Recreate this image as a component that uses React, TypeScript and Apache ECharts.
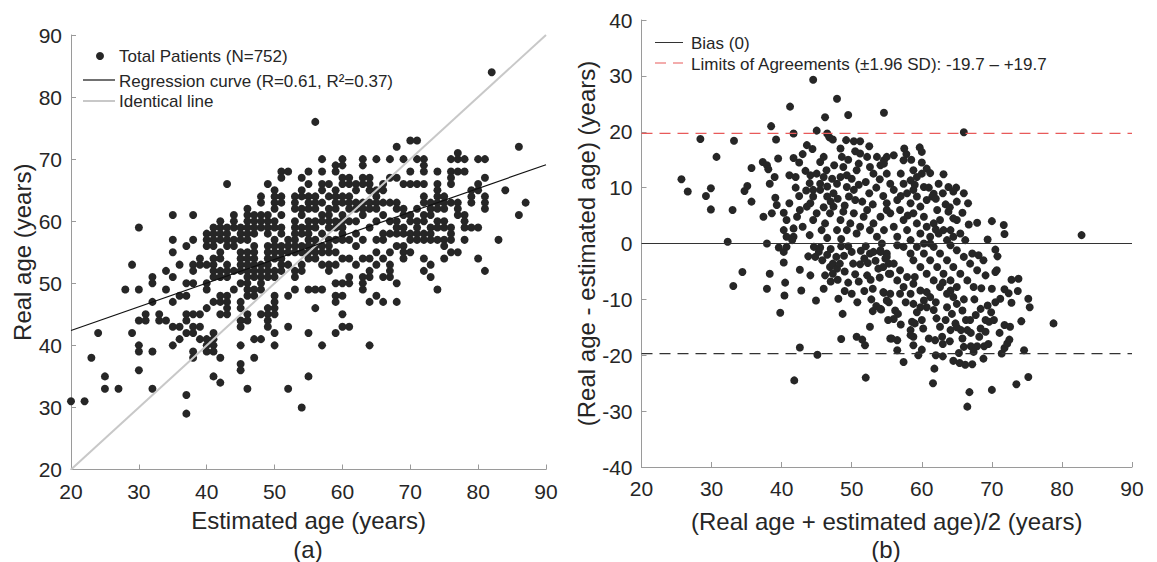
import { useEffect, useRef } from "react";
import * as echarts from "echarts";

const FONT = "'Liberation Sans', Helvetica, Arial, sans-serif";
const TEXT = "#262626";
const AXIS = "#9a9a9a";
const DOT = "#262626";
const LOA_RED = "#e85a5a";

// Panel (a): estimated age -> list of real ages
const estimatedAgeColumns: Array<[number, number[]]> = [
  [20, [31]],
  [22, [31]],
  [23, [38]],
  [24, [42]],
  [25, [35, 33]],
  [27, [33]],
  [28, [49]],
  [29, [53, 42]],
  [30, [59, 49, 44, 40, 39, 36]],
  [31, [45, 44]],
  [32, [51, 50, 47, 39, 33]],
  [33, [45, 44]],
  [34, [52, 49, 44]],
  [35, [61, 57, 55, 51, 47, 43, 40]],
  [36, [53, 48, 43, 41]],
  [37, [56, 50, 48, 45, 44, 42, 32, 29]],
  [38, [61, 57, 53, 52, 50, 45, 43, 42, 39, 38]],
  [39, [54, 53, 45, 43, 41]],
  [40, [58, 57, 56, 53, 50, 49, 46, 41, 40, 39]],
  [41, [59, 58, 57, 56, 54, 53, 52, 51, 47, 42, 41, 40, 39, 35]],
  [42, [60, 59, 58, 57, 55, 54, 52, 51, 48, 47, 45, 38, 34]],
  [43, [66, 59, 58, 57, 56, 53, 52, 51, 48, 47, 46, 45]],
  [44, [61, 60, 59, 57, 56, 52, 49]],
  [45, [59, 58, 57, 55, 54, 53, 52, 50, 47, 46, 44, 43, 40, 37, 36]],
  [46, [62, 61, 60, 59, 58, 57, 55, 54, 53, 52, 51, 50, 49, 48, 45, 44, 33]],
  [47, [61, 60, 59, 58, 56, 55, 54, 53, 52, 51, 49, 48, 41, 38]],
  [48, [64, 63, 61, 60, 59, 53, 52, 51, 50, 49, 45, 41]],
  [49, [66, 61, 60, 59, 58, 56, 55, 54, 53, 52, 51, 46, 45, 44, 43]],
  [50, [65, 64, 63, 62, 60, 59, 57, 56, 55, 54, 52, 51, 48, 47, 46, 45, 42, 40]],
  [51, [68, 67, 64, 63, 61, 59, 58, 56, 55, 54, 53, 52]],
  [52, [68, 57, 56, 55, 53, 48, 43, 33]],
  [53, [64, 63, 62, 60, 59, 58, 57, 56, 55, 52, 51, 49]],
  [54, [67, 65, 64, 62, 61, 59, 58, 56, 55, 53, 52, 30]],
  [55, [68, 66, 64, 63, 62, 60, 59, 58, 57, 56, 55, 54, 49, 42, 35]],
  [56, [76, 64, 63, 62, 60, 59, 57, 56, 55, 54, 49, 46]],
  [57, [70, 68, 66, 65, 63, 61, 60, 58, 56, 55, 53, 49, 40]],
  [58, [66, 64, 62, 61, 60, 59, 57, 56, 55, 53, 52]],
  [59, [69, 68, 65, 64, 63, 62, 60, 59, 57, 55, 53, 50, 48, 47, 42]],
  [60, [70, 69, 67, 66, 64, 63, 61, 60, 59, 58, 57, 54, 50, 48, 45, 43]],
  [61, [67, 66, 64, 63, 62, 60, 57, 54, 51, 50, 43]],
  [62, [66, 65, 63, 62, 60, 58, 56, 53]],
  [63, [70, 69, 67, 66, 63, 62, 61, 57, 54, 51, 50, 49]],
  [64, [67, 66, 65, 63, 62, 59, 54, 52, 51, 47, 40]],
  [65, [70, 65, 64, 63, 62, 60, 57, 55, 53, 48]],
  [66, [66, 65, 63, 61, 58, 57, 54, 51, 47]],
  [67, [70, 67, 63, 60, 58, 55, 53, 52, 51]],
  [68, [72, 67, 63, 62, 60, 59, 58, 56, 50, 47]],
  [69, [70, 66, 62, 61, 59, 58, 56, 55, 54]],
  [70, [73, 68, 66, 61, 60, 58, 57, 55]],
  [71, [73, 70, 66, 62, 60, 59, 58, 57]],
  [72, [70, 69, 68, 66, 64, 63, 61, 60, 58, 57, 54, 52]],
  [73, [63, 62, 61, 59, 58, 57, 53, 51]],
  [74, [68, 66, 65, 64, 63, 62, 60, 59, 57, 49]],
  [75, [64, 63, 62, 60, 59, 57, 56, 54]],
  [76, [70, 68, 67, 66, 63, 59, 58, 57, 55]],
  [77, [71, 70, 68, 63, 62, 61, 55]],
  [78, [70, 68, 61, 60, 59, 57]],
  [79, [65, 64, 63, 59]],
  [80, [70, 66, 65, 59, 54]],
  [81, [70, 67, 64, 63, 62, 52]],
  [82, [84]],
  [83, [57]],
  [84, [65]],
  [86, [72, 61]],
  [87, [63]],
];

const regressionLine: [number, number][] = [[20, 42.4], [90, 69.1]];
const identicalLine: [number, number][] = [[20, 20], [90, 90]];

// Panel (b): [mean of real & estimated, real - estimated]
const blandAltmanPoints: [number, number][] = [
  [25.7, 11.5], [26.6, 9.3], [28.4, 18.7], [29.9, 9.9], [29.2, 8.5], [29.9, 6.1], [30.7, 15.5],
  [32.3, 0.3], [33.0, 6.0], [33.2, 18.4], [34.7, 9.4], [35.1, 10.3], [35.7, 7.5], [35.7, 13.5],
  [37.3, 14.6], [37.9, 14.0], [38.1, 13.3], [38.5, 21.0], [38.3, 10.7], [39.0, 11.9], [39.1, 8.2],
  [37.4, 4.8], [37.9, 0], [38.6, 5.4], [39.3, 6.9], [40.3, 5.5], [41.1, 7.2], [40.7, 4.2],
  [40.3, 2.4], [40.7, 1.2], [41.7, 1.2], [41.7, 2.7], [39.5, 15.2], [39.2, 18.6], [41.2, 24.5],
  [41.7, 19.7], [41.7, 15.3], [41.1, 12.2], [42.0, 11.9], [43.0, 16.0], [43.4, 13.0], [43.6, 17.6],
  [44.1, 12.2], [44.4, 16.9], [44.5, 29.3], [45.0, 20.2], [45.5, 14.6], [46.2, 22.6], [46.5, 19.7],
  [46.8, 19.0], [47.3, 18.6], [47.9, 25.9], [49.5, 23.0], [49.2, 18.5], [50.3, 18.3], [51.2, 18.3],
  [52.5, 17.4], [54.6, 23.4],
  [44.5, 9.6], [44.5, 8.4], [45.5, 10.7], [45.5, 9.6], [46.0, 11.9], [46.4, 13.1], [46.5, 10.2],
  [46.5, 8.4], [47.2, 11.6], [47.4, 9.0], [47.9, 10.7], [48.4, 11.9], [48.6, 15.5], [48.4, 17.0],
  [48.8, 13.7], [49.3, 12.2], [49.3, 10.1], [49.6, 8.4], [50.0, 11.6], [50.3, 9.6], [50.7, 13.1],
  [51.0, 14.3], [51.2, 16.1], [52.2, 15.5], [52.6, 13.7], [53.1, 12.5], [53.6, 15.5], [54.1, 14.0],
  [54.6, 14.9], [55.0, 15.5],
  [42.2, 4.8], [42.6, 6.0], [43.6, 6.6], [44.1, 7.2], [44.5, 4.2], [45.0, 5.4], [45.7, 2.4],
  [46.2, 3.6], [46.9, 5.4], [47.4, 6.6], [47.9, 2.4], [48.4, 4.2], [48.8, 5.7], [49.3, 2.4],
  [49.8, 3.6], [50.3, 5.4], [50.7, 1.8], [51.2, 3.0], [51.7, 4.8], [52.2, 6.0], [52.6, 2.4],
  [53.1, 3.6], [53.6, 1.2], [54.1, 4.8], [54.6, 2.4], [55.0, 6.0],
  [51.5, 7.5], [52.5, 9.0], [53.5, 10.0], [54.5, 8.5], [52.0, 11.0], [53.0, 7.0], [51.0, 10.5],
  [54.0, 11.5], [50.5, 7.8], [49.0, 6.8], [48.0, 8.0], [47.0, 7.5], [46.0, 6.5], [45.0, 12.5],
  [44.0, 10.8], [43.5, 9.5], [42.5, 8.5], [42.0, 10.0], [43.0, 3.0], [44.0, 1.5], [46.5, 1.0],
  [48.5, 0.8], [42.5, 14.5], [47.5, 14.0], [46.0, 15.5], [49.5, 15.0], [50.5, 16.5],
  [66.0, 19.9], [82.8, 1.5], [59.7, 17.2], [60.0, 16.4], [57.5, 17.0], [56.0, 15.8], [57.8, 16.0],
  [57.4, 14.9], [60.7, 13.4], [61.2, 12.6], [63.1, 12.4], [62.4, 10.7], [63.8, 10.1], [64.9, 10.0],
  [64.5, 9.3], [61.7, 8.9], [61.5, 8.4], [66.6, 7.2], [65.8, 5.5], [63.4, 7.0], [63.8, 5.7],
  [65.0, 4.2], [66.7, 3.4], [67.9, 3.7], [70.0, 4.0], [71.7, 3.3], [71.8, 1.7], [69.4, 0.7],
  [70.5, -1.1], [66.2, 0.6],
  [54.6, 14.3], [55.0, 12.5], [55.5, 10.7], [56.0, 9.6], [56.5, 7.8], [56.9, 6.0], [57.4, 4.2],
  [57.9, 2.4], [58.4, 0.6], [55.0, 7.2], [55.5, 5.4], [56.0, 3.0], [56.5, 1.2], [58.8, 13.1],
  [58.4, 11.3], [58.8, 9.6], [59.3, 8.4], [59.8, 6.6], [60.3, 4.8], [60.7, 3.0], [61.2, 1.2],
  [59.3, 11.9], [60.3, 10.1], [60.7, 7.8], [62.2, 6.0], [62.6, 4.2], [63.1, 2.4], [63.6, 0.6],
  [61.7, 3.6], [62.4, 1.8], [57.0, 12.5], [57.4, 10.7], [57.9, 9.0], [58.4, 7.2], [58.8, 5.4],
  [59.3, 3.6], [59.8, 1.8], [60.3, 0.0], [64.1, 2.4], [64.5, 1.2], [65.5, 1.8], [61.2, 0.0],
  [57.0, 8.5], [58.0, 5.0], [59.0, 10.5], [60.0, 12.5], [61.0, 10.0], [62.0, 8.0], [63.0, 9.0],
  [62.0, 2.5], [64.0, 6.5], [65.0, 7.5], [66.0, 9.0], [64.5, 4.5], [60.0, 14.5], [58.5, 15.0],
  [33.1, -7.6], [34.4, -5.1], [37.9, -8.1], [38.3, -5.4], [39.6, -0.7], [40.3, -1.5], [40.7, -0.6],
  [41.5, 0.6], [40.3, -3.4], [40.5, -7.0], [40.4, -9.3], [39.8, -12.4], [42.6, -4.7], [42.8, -8.4],
  [44.1, -5.7], [43.8, -2.3], [44.8, -2.4], [44.6, -0.6], [45.5, -0.7], [45.3, -1.5], [44.9, -10.2],
  [46.0, -8.1], [46.2, -5.7], [46.9, -4.2], [47.3, -3.6], [47.9, -4.5], [48.3, -3.6], [47.8, -2.4],
  [48.9, -2.2], [47.3, -5.4], [48.1, -9.9], [48.7, -12.6], [48.5, -17.1], [42.6, -18.6],
  [45.1, -19.9], [41.8, -24.5], [50.2, -3.6], [51.2, -3.7], [51.3, -1.3], [51.8, -2.7], [52.3, -3.5],
  [52.6, -1.8], [53.1, -1.5], [53.4, -3.1], [54.1, -1.5], [54.3, 0], [54.8, -2.7], [55.0, -1.8],
  [55.3, -3.6], [55.3, -5.4], [52.2, -5.7], [52.7, -6.5], [54.0, -6.1], [53.0, -8.1], [54.6, -8.8],
  [55.3, -10.5], [50.8, -10.5], [53.0, -12.1], [53.5, -11.2], [54.2, -11.8], [52.6, -14.9],
  [50.7, -16.7], [51.5, -17.2], [51.9, -18.2], [52.0, -24.0], [55.5, -17.0],
  [45.8, -3.0], [46.5, -2.0], [47.0, -6.8], [48.0, -6.5], [49.0, -5.0], [49.5, -7.0], [50.0, -1.5],
  [50.5, -5.5], [49.5, -0.5], [51.0, -6.8], [51.8, -8.5], [52.8, -10.0], [53.8, -4.5], [52.0, -0.5],
  [50.0, -9.0], [49.0, -8.5], [48.5, -0.5], [47.0, -1.0],
  [78.8, -14.3], [75.2, -23.9], [73.5, -25.2], [70.0, -26.2], [66.8, -26.6], [66.5, -29.2],
  [61.6, -25.0], [61.8, -22.4], [62.0, -20.0], [63.0, -20.2], [64.5, -21.0], [65.4, -21.4],
  [66.2, -21.7], [67.2, -21.6], [65.3, -19.6], [68.8, -20.6], [74.6, -19.1], [71.4, -19.7],
  [71.8, -18.7], [72.2, -17.9], [72.5, -17.2], [74.2, -13.9], [75.2, -9.9], [75.4, -11.4],
  [72.8, -6.5], [73.8, -6.3], [73.7, -8.5], [72.8, -10.6], [71.8, -8.2], [71.2, -9.9], [72.4, -8.9],
  [71.1, -16.0], [71.8, -14.6], [72.6, -14.9], [70.8, -2.3], [70.5, -5.1], [70.7, -4.8],
  [69.1, -5.7], [70.0, -8.1], [69.4, -11.1], [69.9, -12.3], [69.1, -13.7], [69.6, -14.0],
  [70.3, -13.7], [68.4, -15.2], [69.1, -15.8], [68.2, -16.7], [68.9, -18.4], [67.9, -18.4],
  [67.0, -18.4], [67.4, -19.4], [66.0, -18.5], [65.8, -17.0], [66.5, -15.5], [65.6, -15.5],
  [66.9, -13.7], [67.7, -12.8], [68.4, -11.7],
  [64.1, -8.4], [64.5, -9.6], [63.6, -11.4], [64.3, -12.6], [65.0, -10.8], [65.8, -12.0],
  [66.3, -13.7], [64.8, -14.3], [64.1, -15.5], [63.4, -13.7], [62.6, -14.9], [62.9, -16.7],
  [62.1, -13.4], [61.7, -11.9], [61.9, -17.3],
  [60.7, -8.7], [61.2, -9.6], [60.3, -10.2], [60.7, -11.4], [59.8, -11.4], [59.3, -12.3],
  [58.8, -16.7], [58.4, -15.5], [58.6, -14.0], [59.0, -14.3], [60.0, -13.7], [60.2, -15.2],
  [56.5, -19.1], [56.5, -17.3], [57.4, -21.2], [55.7, -17.0], [55.0, -10.2], [56.2, -12.0],
  [56.6, -12.6], [56.0, -13.5], [55.2, -13.7], [58.8, -18.2], [58.4, -16.4], [54.5, -8.7],
  [54.1, -11.7], [55.5, -9.0], [56.9, -9.0], [58.4, -9.0], [57.7, -10.5], [58.8, -10.8],
  [61.0, -17.0], [60.0, -19.0], [63.0, -18.0], [64.0, -17.5], [65.0, -15.0], [67.5, -10.0],
  [68.5, -8.0], [66.0, -10.0], [63.0, -7.0], [62.0, -10.5], [59.0, -6.0], [57.0, -14.5],
  [59.5, -20.0], [67.0, -16.0], [70.5, -10.5], [69.5, -18.0],
  [54.1, -1.2], [55.0, -2.4], [56.0, -3.6], [56.9, -4.8], [57.9, -6.0], [58.8, -7.2], [59.8, -8.4],
  [54.5, -4.2], [55.5, -5.4], [56.5, -6.6], [57.4, -7.8], [58.8, -3.0], [59.8, -4.2], [60.7, -5.4],
  [61.7, -6.6], [62.6, -7.8], [63.6, -9.0], [60.3, -1.8], [61.2, -3.0], [62.2, -4.2], [63.1, -5.4],
  [64.1, -6.6], [65.0, -7.8], [61.7, -0.6], [62.6, -1.8], [63.6, -3.0], [64.5, -4.2], [65.5, -5.4],
  [66.5, -6.6], [67.4, -7.8], [64.1, -0.3], [65.0, -1.2], [66.0, -2.4], [66.9, -3.6], [67.9, -4.8],
  [67.2, -1.8], [68.1, -2.1], [68.8, -3.0], [59.3, -0.6], [58.4, -1.8], [57.4, -0.6], [56.5, -0.3],
];

const biasLine: [number, number][] = [[20, 0], [90, 0]];
const upperLimit: [number, number][] = [[20, 19.7], [90, 19.7]];
const lowerLimit: [number, number][] = [[20, -19.7], [90, -19.7]];

const axisStyle = {
  axisLine: { show: true, onZero: false, lineStyle: { color: AXIS, width: 1 } },
  axisTick: { show: true, inside: true, length: 5, lineStyle: { color: AXIS } },
  splitLine: { show: false },
  nameTextStyle: { color: TEXT, fontSize: 24, fontFamily: FONT },
};
const labelStyle = (margin: number) => ({ color: TEXT, fontSize: 21, fontFamily: FONT, margin });

export default function App() {
  const ref = useRef<HTMLDivElement>(null);
  useEffect(() => {
    if (!ref.current) return;
    const chart = echarts.init(ref.current, null, { renderer: "svg" });
    const scatterA = estimatedAgeColumns.flatMap(([est, reals]) => reals.map((r) => [est, r]));
    const legendText = { fontSize: 17, fontFamily: FONT, fill: TEXT, verticalAlign: "middle" as const };
    chart.setOption({
      animation: false,
      grid: [
        { left: 71, top: 35, width: 475, height: 434.5 },
        { left: 641.5, top: 20, width: 490.5, height: 447 },
      ],
      xAxis: [
        {
          gridIndex: 0, type: "value", min: 20, max: 90, interval: 10,
          name: "Estimated age (years)", nameLocation: "middle", nameGap: 39,
          ...axisStyle, axisLabel: labelStyle(11),
        },
        {
          gridIndex: 1, type: "value", min: 20, max: 90, interval: 10,
          name: "(Real age + estimated age)/2 (years)", nameLocation: "middle", nameGap: 42,
          ...axisStyle, axisLabel: labelStyle(11),
        },
      ],
      yAxis: [
        {
          gridIndex: 0, type: "value", min: 20, max: 90, interval: 10,
          name: "Real age (years)", nameLocation: "middle", nameGap: 32,
          ...axisStyle, axisLabel: labelStyle(9),
        },
        {
          gridIndex: 1, type: "value", min: -40, max: 40, interval: 10,
          name: "(Real age - estimated age) (years)", nameLocation: "middle", nameGap: 40,
          ...axisStyle, axisLabel: labelStyle(9),
        },
      ],
      series: [
        {
          type: "scatter", xAxisIndex: 0, yAxisIndex: 0, data: scatterA,
          symbolSize: 8, itemStyle: { color: DOT, opacity: 1 }, z: 2,
        },
        {
          type: "line", xAxisIndex: 0, yAxisIndex: 0, data: identicalLine, showSymbol: false,
          lineStyle: { color: "#c8c8c8", width: 2 }, z: 3,
        },
        {
          type: "line", xAxisIndex: 0, yAxisIndex: 0, data: regressionLine, showSymbol: false,
          lineStyle: { color: "#111", width: 1.2 }, z: 4,
        },
        {
          type: "scatter", xAxisIndex: 1, yAxisIndex: 1, data: blandAltmanPoints,
          symbolSize: 8, itemStyle: { color: DOT, opacity: 1 }, z: 2,
        },
        {
          type: "line", xAxisIndex: 1, yAxisIndex: 1, data: biasLine, showSymbol: false,
          lineStyle: { color: "#333", width: 1 }, z: 3,
        },
        {
          type: "line", xAxisIndex: 1, yAxisIndex: 1, data: upperLimit, showSymbol: false,
          lineStyle: { color: LOA_RED, width: 1.2, type: [11, 7] }, z: 3,
        },
        {
          type: "line", xAxisIndex: 1, yAxisIndex: 1, data: lowerLimit, showSymbol: false,
          lineStyle: { color: "#333", width: 1.2, type: [11, 7] }, z: 3,
        },
      ],
      graphic: [
        { type: "circle", shape: { cx: 100, cy: 56, r: 4 }, style: { fill: DOT } },
        { type: "text", x: 119, y: 56, style: { text: "Total Patients (N=752)", ...legendText } },
        { type: "line", shape: { x1: 83, y1: 80, x2: 115, y2: 80 }, style: { stroke: "#111", lineWidth: 1.2 } },
        { type: "text", x: 119, y: 81, style: { text: "Regression curve (R=0.61, R²=0.37)", ...legendText } },
        { type: "line", shape: { x1: 83, y1: 101, x2: 115, y2: 101 }, style: { stroke: "#c8c8c8", lineWidth: 2 } },
        { type: "text", x: 119, y: 101, style: { text: "Identical line", ...legendText } },
        { type: "line", shape: { x1: 655, y1: 42.5, x2: 683, y2: 42.5 }, style: { stroke: "#333", lineWidth: 1 } },
        { type: "text", x: 691, y: 43, style: { text: "Bias (0)", ...legendText } },
        { type: "line", shape: { x1: 655, y1: 63, x2: 683, y2: 63 }, style: { stroke: LOA_RED, lineWidth: 1.2, lineDash: [11, 7] } },
        { type: "text", x: 691, y: 64, style: { text: "Limits of Agreements (±1.96 SD): -19.7 – +19.7", ...legendText } },
        { type: "text", x: 308, y: 549, style: { text: "(a)", fontSize: 24, fontFamily: FONT, fill: TEXT, align: "center", verticalAlign: "middle" } },
        { type: "text", x: 886, y: 549, style: { text: "(b)", fontSize: 24, fontFamily: FONT, fill: TEXT, align: "center", verticalAlign: "middle" } },
      ],
    });
    return () => chart.dispose();
  }, []);
  return <div ref={ref} style={{ position: "absolute", left: 0, top: 0, width: 1157, height: 562, background: "#fff" }} />;
}
